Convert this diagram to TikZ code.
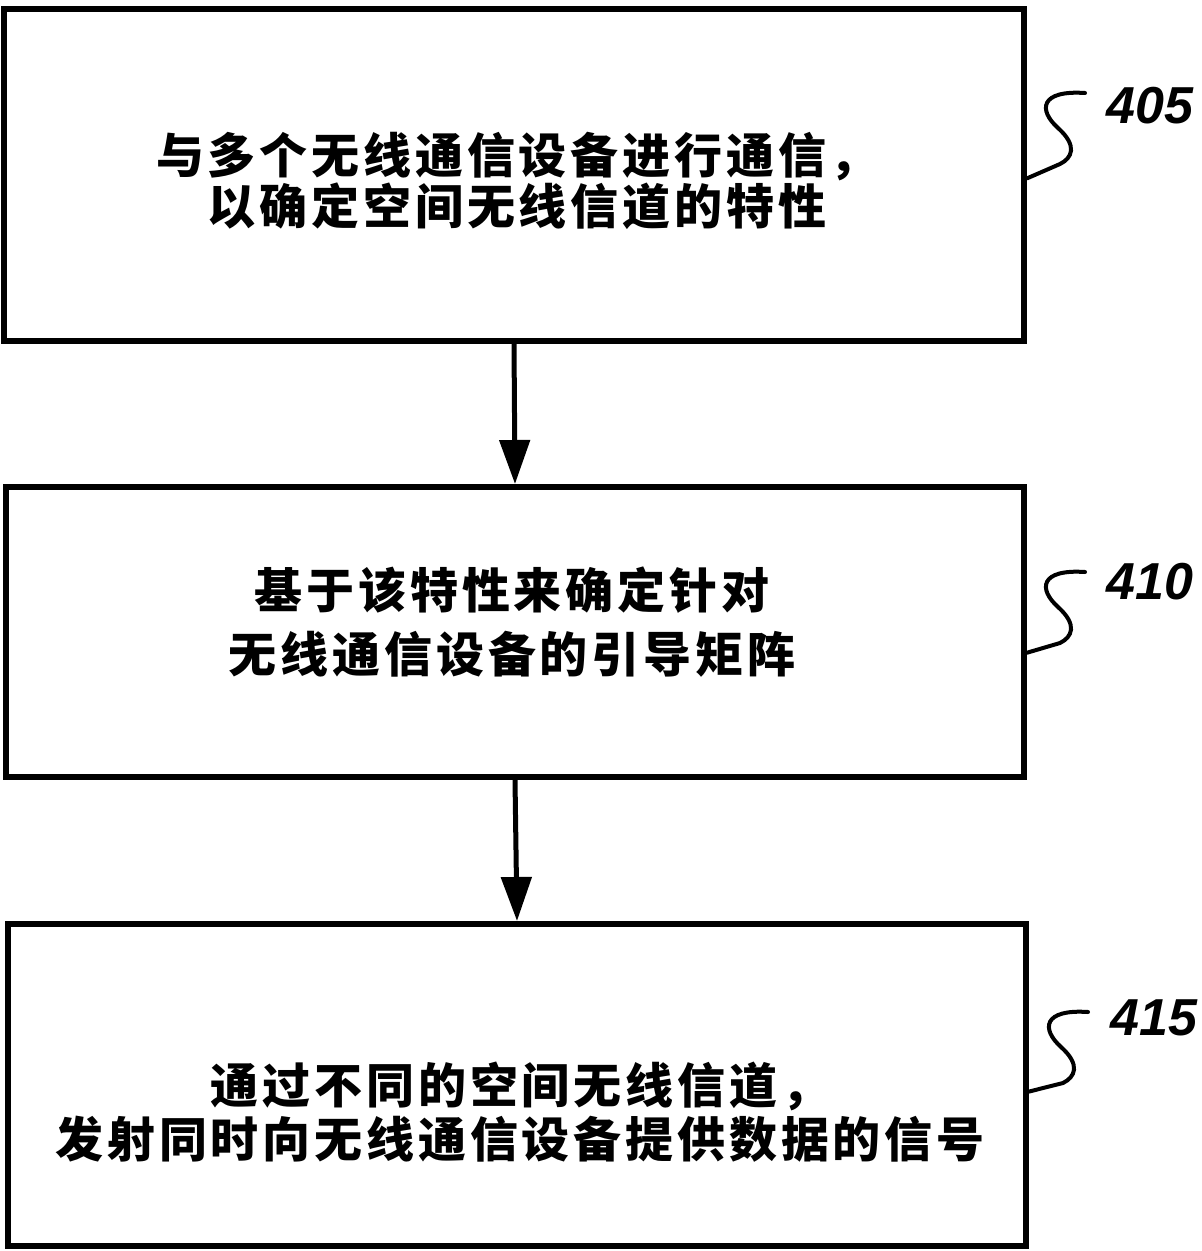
\documentclass[tikz,border=0pt]{standalone}
\usepackage{fontspec}
\usetikzlibrary{arrows.meta,calc}
\newfontfamily\cjk[LetterSpace=8]{Noto Sans CJK SC}
\newfontfamily\labfont{Liberation Sans}
\tikzset{
  box/.style={draw, line width=3pt, rectangle, inner sep=0pt},
  txt/.style={align=center, inner sep=0pt, font=\cjk\bfseries\fontsize{24}{#1}\selectfont},
  arr/.style={line width=2.5pt, -{Triangle[length=22pt,width=15pt]}},
  squig/.style={line width=2pt, line cap=round},
  lab/.style={font=\labfont\bfseries\itshape\fontsize{26}{30}\selectfont, inner sep=0pt}
}
\begin{document}
\begin{tikzpicture}[x=0.5pt,y=-0.5pt]
\useasboundingbox (0,0) rectangle (1201,1251);
\node[box, minimum width=510pt, minimum height=166pt] (b1) at (514,175) {};
\node[box, minimum width=509pt, minimum height=145pt] (b2) at (515,632) {};
\node[box, minimum width=509pt, minimum height=161pt] (b3) at (517,1085) {};
\node[txt=24] (t1) at (517,181) {与多个无线通信设备进行通信，\\以确定空间无线信道的特性};
\node[txt=32] (t2) at (512,622) {基于该特性来确定针对\\无线通信设备的引导矩阵};
\node[txt=27] (t3) at (520,1112) {通过不同的空间无线信道，\\发射同时向无线通信设备提供数据的信号};
\draw[arr] (b1.south) -- (b2.north);
\draw[arr] (b2.south) -- (b3.north);
\node[lab] (l1) at (1150,106) {405};
\node[lab] (l2) at (1150,582) {410};
\node[lab] (l3) at (1154,1018) {415};
\coordinate (s1) at (1085,93);
\coordinate (s2) at (1085,572);
\coordinate (s3) at (1088,1012);
\draw[squig] (s1) .. controls (1040,90) and (1038,110) .. (1058,128) .. controls (1078,146) and (1072,158) .. (1060,164) -- ($(b1.north east)!0.51!(b1.south east)$);
\draw[squig] (s2) .. controls (1040,569) and (1038,589) .. (1058,607) .. controls (1078,625) and (1072,637) .. (1060,643) -- ($(b2.north east)!0.57!(b2.south east)$);
\draw[squig] (s3) .. controls (1043,1009) and (1041,1029) .. (1061,1047) .. controls (1081,1065) and (1075,1077) .. (1063,1083) -- ($(b3.north east)!0.52!(b3.south east)$);
\end{tikzpicture}
\end{document}
